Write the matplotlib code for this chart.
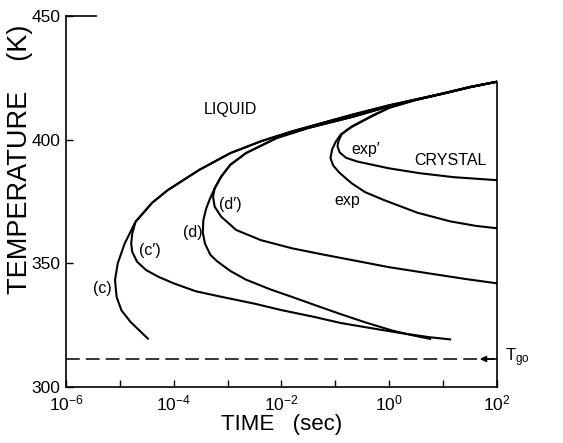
import numpy as np
import matplotlib.pyplot as plt

plt.rcParams['font.family'] = ['Liberation Sans', 'DejaVu Sans']
plt.rcParams['mathtext.fontset'] = 'custom'
plt.rcParams['mathtext.rm'] = 'Liberation Sans'

# curves as (log10 time [s], temperature [K]), traced from top right round the nose to the end
top_logt = [2.0, 1.5, 1.0, 0.5, 0.0, -0.65, -1.22, -1.80, -2.38, -2.95, -3.53, -4.11, -4.40, -4.71]
top_temp = [423.3, 421.2, 418.6, 416.2, 413.8, 410.2, 406.8, 403.3, 399.3, 394.5, 387.7, 379.6, 374.5, 366.8]

c_logt = top_logt + [-4.91, -5.04, -5.09, -5.06, -4.97, -4.80, -4.48]
c_temp = top_temp + [358.1, 350.0, 343.3, 336.5, 331.1, 326.4, 319.7]

cp_logt = top_logt + [-4.77, -4.79, -4.77, -4.68, -4.51, -4.28, -3.99, -3.59, -3.1, -2.5,
                      -2.0, -1.4, -0.9, -0.3, 0.2, 0.74, 1.13]
cp_temp = top_temp + [362.1, 358.1, 354.7, 350.7, 347.3, 344.6, 341.9, 338.8, 336.5, 333.8,
                      331.2, 328.5, 326.0, 323.8, 322.0, 320.3, 319.4]

dtop_logt = [2.0, 1.5, 1.0, 0.5, 0.0, -0.65, -1.51, -2.09, -2.66, -2.95, -3.12, -3.24]
dtop_temp = [423.3, 421.1, 418.5, 416.0, 413.4, 409.3, 404.6, 400.6, 394.5, 389.8, 385.0, 380.3]

d_logt = dtop_logt + [-3.33, -3.40, -3.45, -3.46, -3.42, -3.32, -3.2, -2.95, -2.66, -2.2,
                      -1.80, -1.35, -0.93, -0.45, 0.05, 0.4, 0.76]
d_temp = dtop_temp + [376.0, 372.0, 367.5, 362.5, 358.0, 353.5, 351.0, 347.0, 343.5, 339.5,
                      336.5, 333.0, 329.8, 326.3, 323.0, 321.2, 319.6]

dp_logt = dtop_logt + [-3.27, -3.24, -3.12, -2.84, -2.38, -1.80, -1.2, -0.6, 0.0, 0.74, 1.4, 2.0]
dp_temp = dtop_temp + [376.9, 372.9, 368.9, 363.5, 359.4, 356.1, 353.5, 351.0, 348.5, 346.0, 343.8, 342.0]

exp_logt = [2.0, 1.5, 1.0, 0.5, 0.0, -0.30, -0.70, -0.90, -0.99, -1.06, -1.09, -1.04, -0.92,
            -0.70, -0.45, -0.1, 0.52, 1.13, 1.6, 2.0]
exp_temp = [423.3, 421.1, 418.5, 416.0, 412.8, 409.8, 405.2, 402.0, 399.2, 396.0, 392.5, 389.5, 386.5,
            382.4, 378.8, 375.6, 370.5, 367.0, 365.2, 364.2]

expp_logt = [2.0, 1.5, 1.0, 0.5, 0.0, -0.40, -0.70, -0.88, -0.94, -0.96, -0.92, -0.80, -0.59,
             -0.01, 0.57, 1.2, 2.0]
expp_temp = [423.3, 421.1, 418.5, 416.0, 412.8, 408.5, 405.0, 402.2, 399.5, 397.3, 394.8, 392.6, 391.1,
             388.4, 386.4, 384.8, 383.6]

curves = [(c_logt, c_temp), (cp_logt, cp_temp), (d_logt, d_temp),
          (dp_logt, dp_temp), (exp_logt, exp_temp), (expp_logt, expp_temp)]

labels = ["(c)", "(c\u2032)", "(d)", "(d\u2032)", "exp", "exp\u2032", "LIQUID", "CRYSTAL"]
label_logt = [-5.33, -4.45, -3.64, -2.95, -0.78, -0.44, -2.95, 1.13]
label_temp = [340.1, 355.4, 362.7, 373.6, 375.6, 396.0, 411.9, 391.7]

T_go = 311.5

fig = plt.figure(figsize=(5.63, 4.43), dpi=100)
ax = fig.add_axes([0.1172, 0.1253, 0.7655, 0.8397])

for lt, tp in curves:
    ax.plot(10 ** np.array(lt), tp, color='black', lw=1.5)

for s, lt, tp in zip(labels, label_logt, label_temp):
    ax.text(10 ** lt, tp, s, fontsize=11.5, ha='center', va='center')

ax.plot([1e-6, 1e2], [T_go, T_go], color='black', lw=1.1, dashes=(9, 4))
ax.annotate('', xy=(10 ** 1.63, T_go), xytext=(1e2, T_go),
            arrowprops=dict(arrowstyle='-|>', color='black', lw=1.1, mutation_scale=9))
ax.text(10 ** 2.14, T_go + 0.5, r'$\mathregular{T_{go}}$', fontsize=12, ha='left', va='center')

ax.set_xscale('log')
ax.set_xlim(1e-6, 1e2)
ax.set_ylim(300, 450)
ax.set_xticks([10.0 ** k for k in range(-6, 3)])
ax.set_xticklabels([r'$\mathregular{10^{%d}}$' % k if k % 2 == 0 else '' for k in range(-6, 3)])
ax.minorticks_off()
ax.set_yticks([300, 350, 400, 450])
ax.tick_params(direction='in', length=5, width=1, labelsize=12.5, top=False, right=False)
ax.tick_params(axis='x', pad=4)
ax.tick_params(axis='y', pad=4)

# short stub of the frame at the top left
ax.plot([1e-6, 10 ** -5.45], [450, 450], color='black', lw=1.2, clip_on=False)

ax.spines['top'].set_visible(False)
ax.spines['right'].set_bounds(300, 423.3)
for sp in ax.spines.values():
    sp.set_linewidth(1.2)

ax.set_xlabel('TIME   (sec)', fontsize=16, labelpad=1)
fig.text(0.036, 0.64, 'TEMPERATURE    (K)', fontsize=19.5, rotation=90, ha='center', va='center')

fig.savefig('out.png', dpi=100)
